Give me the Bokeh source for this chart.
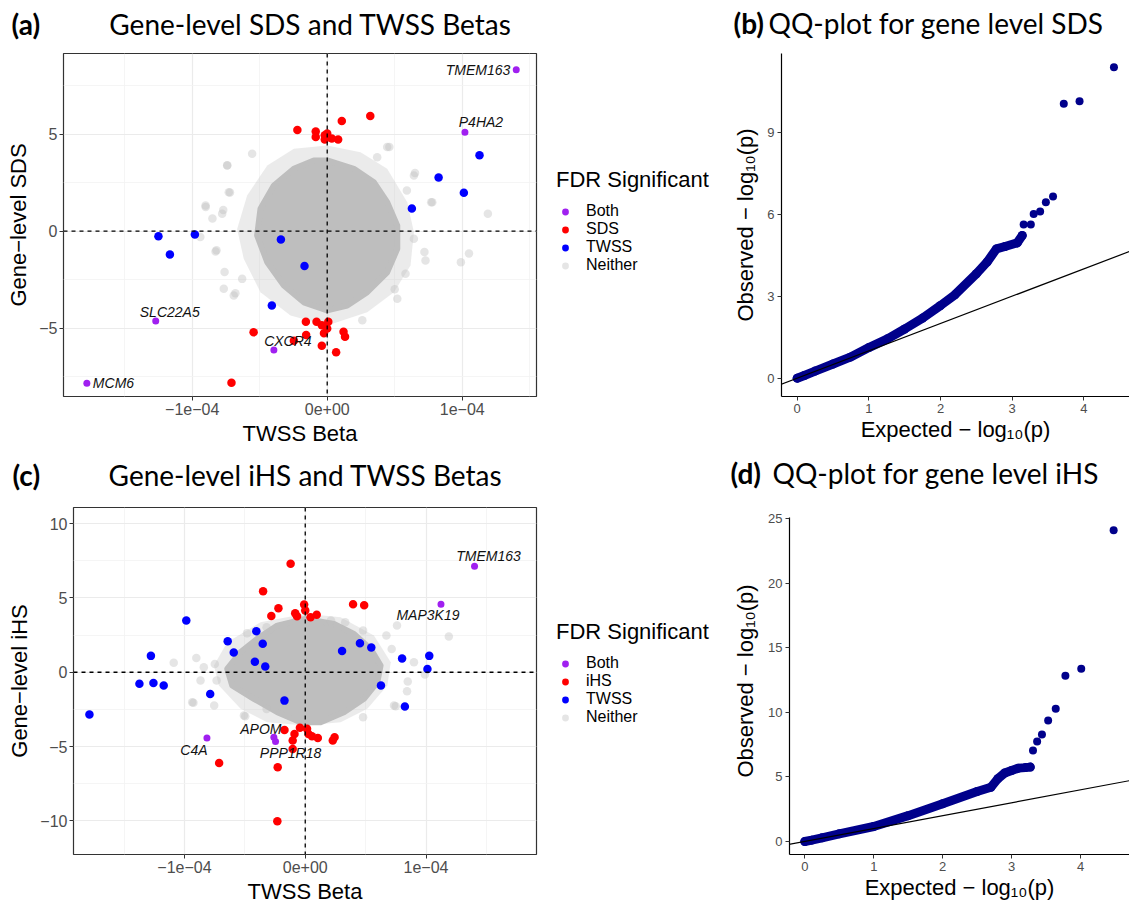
import numpy as np
from bokeh.plotting import figure
from bokeh.models import (Span, Legend, LegendItem, FixedTicker, Slope,
                          ColumnDataSource, Range1d)
from bokeh.layouts import row, column
from bokeh.embed import file_html
from bokeh.resources import INLINE
from bokeh.core.properties import value

E4 = 1e-4

# ---------------- Panel (a): SDS vs TWSS ----------------
a_both_x = np.array([1.40, 1.02, -1.27, -0.395, -1.78]) * E4
a_both_y = [8.33, 5.10, -4.64, -6.13, -7.85]
a_both_genes = ["TMEM163", "P4HA2", "SLC22A5", "CXCR4", "MCM6"]

a_twss_x = np.array([1.128, 0.825, 1.012, 0.627, -1.25, -0.98, -1.165, -0.343, -0.168, -0.41]) * E4
a_twss_y = [3.92, 2.77, 1.99, 1.17, -0.26, -0.17, -1.20, -0.43, -1.80, -3.83]

a_sds_x = np.array([0.319, 0.108, -0.221, -0.085, -0.085, -0.018, 0.0, -0.018, 0.034, 0.081,
                    -0.158, -0.079, 0.008, -0.04, -0.545, -0.156, -0.024, 0.0, 0.121, 0.132,
                    -0.247, -0.04, 0.066, -0.709]) * E4
a_sds_y = [5.94, 5.69, 5.22, 5.15, 4.86, 4.95, 5.04, 4.73, 4.78, 4.73,
           -4.67, -4.67, -4.67, -4.85, -5.22, -5.36, -5.27, -5.02, -5.19, -5.45,
           -5.65, -5.91, -6.25, -7.82]

# outline of the dense core of "Neither" genes, and of its lighter fringe
a_core_x = np.array([0.0, 0.197, 0.345, 0.444, 0.519, 0.519, 0.444, 0.296, 0.148, 0.0, -0.173,
                     -0.321, -0.444, -0.519, -0.494, -0.395, -0.247, -0.099]) * E4
a_core_y = [3.65, 3.22, 2.53, 1.50, 0.29, -0.91, -2.12, -3.15, -3.84, -4.09, -3.67,
            -2.80, -1.60, -0.22, 1.16, 2.36, 3.22, 3.65]
a_fringe_x = np.array([0.0, 0.247, 0.444, 0.593, 0.642, 0.617, 0.494, 0.296, 0.0, -0.272,
                       -0.494, -0.618, -0.667, -0.593, -0.444, -0.247]) * E4
a_fringe_y = [4.42, 4.08, 3.22, 1.50, -0.05, -1.77, -3.15, -4.18, -4.87, -4.35,
              -3.15, -1.42, 0.12, 1.84, 3.39, 4.25]

a_neither_x = np.array([-0.74, -0.72, -0.9, -0.85, -0.94, -0.82, -0.76, -0.68, -0.77,
                        0.46, 0.65, 0.59, 0.77, 0.72, 1.05, 0.99, 1.19, 0.26, 0.58, 0.5,
                        -0.556, -0.741, -0.901, -0.778, -0.827, -0.766, -0.692, -0.630, -0.729,
                        0.642, 0.778, 0.728, 0.519, 0.642, 0.444, 0.37]) * E4
a_neither_y = [3.4, 2.0, 1.25, 0.65, -0.3, -0.98, -2.1, -3.2, 1.1,
               4.35, 3.0, 2.1, 1.5, -1.07, -1.15, -1.6, 0.9, -4.6, -2.2, -3.0,
               4.0, 3.39, 1.33, 0.9, -1.05, -2.97, -3.32, -2.46, 2.01,
               2.88, 1.50, -1.51, -3.49, -0.39, 4.34, 3.82]

# ---------------- Panel (c): iHS vs TWSS ----------------
c_both_x = np.array([1.402, 1.124, -0.814, -0.26, -0.246]) * E4
c_both_y = [7.13, 4.57, -4.42, -4.37, -4.66]
c_both_genes = ["TMEM163", "MAP3K19", "C4A", "APOM", "PPP1R18"]

c_twss_x = np.array([-0.985, -0.405, -0.642, -0.352, -0.592, -1.278, -0.417, -0.331, -1.373,
                     -1.257, -1.172, -0.787, -0.172, -1.787, 0.305, 0.453, 0.547, 0.802,
                     1.027, 1.012, 0.627, 0.825]) * E4
c_twss_y = [3.48, 2.76, 2.09, 1.91, 1.32, 1.10, 0.70, 0.38, -0.78, -0.72, -0.90, -1.46,
            -1.91, -2.85, 1.43, 1.95, 1.66, 0.92, 1.10, 0.22, -0.90, -2.31]

c_ihs_x = np.array([-0.121, -0.349, -0.222, -0.281, -0.083, -0.068, -0.009, 0.0, 0.044, 0.095,
                    0.396, 0.488, -0.172, -0.089, -0.104, -0.044, 0.015, 0.027, 0.056, 0.104,
                    0.243, 0.228, -0.104, -0.713, -0.228, -0.231]) * E4
c_ihs_y = [7.29, 5.45, 4.30, 3.79, 3.97, 3.77, 4.55, 4.15, 3.70, 3.86,
           4.57, 4.51, -3.88, -4.15, -4.60, -3.74, -3.81, -4.15, -4.30, -4.42,
           -4.37, -4.60, -5.16, -6.10, -6.39, -10.02]

c_core_x = np.array([0.0, 0.238, 0.403, 0.541, 0.624, 0.597, 0.486, 0.32, 0.127, -0.038,
                     -0.231, -0.425, -0.605, -0.646, -0.535, -0.397, -0.231]) * E4
c_core_y = [3.59, 3.25, 2.58, 1.57, 0.45, -0.67, -1.79, -2.69, -3.36, -3.36,
            -2.69, -1.79, -0.89, 0.23, 1.35, 2.25, 3.14]
c_fringe_x = np.array([0.0, 0.293, 0.569, 0.708, 0.68, 0.514, 0.293, 0.0, -0.315, -0.535,
                       -0.715, -0.756, -0.646, -0.37]) * E4
c_fringe_y = [3.93, 3.70, 2.47, 0.67, -0.89, -2.46, -3.36, -3.58, -3.36, -2.46,
              -0.89, 0.45, 2.02, 3.36]

c_neither_x = np.array([-1.089, -0.902, -0.749, -0.734, -0.926, -0.754, -0.497, -0.320, 0.479,
                        0.749, 0.849, 0.843, 0.716, 0.672, 0.760, 1.189, 0.991, 0.213, 0.331,
                        -0.320, -0.482, 0.479, -0.936, -0.840, -0.867, 0.90, 0.735, -0.508]) * E4
c_neither_y = [0.63, 0.96, 0.56, -0.56, -2.06, -2.24, -2.96, -2.47, -3.03, -2.29, -0.63, -1.28,
               1.57, 2.47, 3.14, 2.40, -0.16, 3.48, 3.36, 3.03, 2.62, 2.80, -2.02, 0.34, -0.56,
               0.67, -2.24, -2.91]

# ---------------- Panel (b): QQ SDS ----------------
b_curve_exp = [0.0, 0.1, 0.25, 0.5, 0.74, 1.0, 1.26, 1.5, 1.75, 2.0, 2.2, 2.5, 2.65, 2.78, 2.9, 3.07, 3.14]
b_curve_obs = [0.0, 0.1, 0.26, 0.52, 0.77, 1.12, 1.44, 1.80, 2.2, 2.66, 3.05, 3.82, 4.25, 4.73, 4.82, 4.95, 5.22]
b_out_exp = [3.16, 3.26, 3.30, 3.39, 3.47, 3.57, 3.72, 3.94, 4.42]
b_out_obs = [5.62, 5.62, 6.01, 6.10, 6.44, 6.65, 10.04, 10.13, 11.38]

# ---------------- Panel (d): QQ iHS ----------------
d_curve_exp = [0.0, 0.1, 0.25, 0.5, 1.0, 1.5, 2.0, 2.5, 2.7, 2.8, 2.9, 3.0, 3.1, 3.2, 3.27]
d_curve_obs = [0.0, 0.1, 0.28, 0.59, 1.16, 2.0, 2.92, 3.87, 4.2, 4.86, 5.3, 5.5, 5.68, 5.72, 5.76]
d_out_exp = [3.31, 3.37, 3.44, 3.53, 3.64, 3.78, 4.01, 4.48]
d_out_obs = [7.05, 7.75, 8.29, 9.37, 10.28, 12.84, 13.38, 24.10]

# ---------------- titles / legend text ----------------
row1_tags = ["(a)", "(b)"]
row1_titles = ["Gene-level SDS and TWSS Betas", "QQ-plot for gene level SDS"]
row2_tags = ["(c)", "(d)"]
row2_titles = ["Gene-level iHS and TWSS Betas", "QQ-plot for gene level iHS"]
legend_title = "FDR Significant"

# ---------------- styling ----------------
PURPLE, RED, BLUE, GRAY, NAVY = "#A020F0", "#FF0000", "#0000FF", "#BEBEBE", "#00008B"
AX_FONT = "Liberation Sans"
TITLE_FONT = "Lato"
MINUS = "\u2212"


def blank(width, height, xr=(0, 1), yr=(0, 1), bt=0, bb=0):
    p = figure(width=width, height=height, x_range=Range1d(*xr), y_range=Range1d(*yr),
               x_axis_type=None, y_axis_type=None, min_border_left=0, min_border_right=0,
               min_border_top=bt, min_border_bottom=bb, title=None,
               output_backend="svg", toolbar_location=None)
    p.grid.visible = False
    p.outline_line_color = None
    return p


def strip_text(p, xs, ys, texts, size, bold, align):
    p.text(xs, ys, text=texts, text_font=value(TITLE_FONT), text_font_size=size,
           text_font_style="bold" if bold else "normal", text_baseline="middle",
           text_align=align, text_color="black")


def scatter_panel(width, height, bl, bt, br, bb, xr, yr, yticks, yminor, ylabel):
    p = figure(width=width, height=height, min_border_left=bl, min_border_top=bt,
               min_border_bottom=bb, min_border_right=br, x_range=Range1d(*xr),
               y_range=Range1d(*yr), title=None, output_backend="svg", toolbar_location=None)
    p.xaxis.ticker = FixedTicker(ticks=[-E4, 0.0, E4], minor_ticks=[-1.5 * E4, -0.5 * E4, 0.5 * E4, 1.5 * E4])
    p.xaxis.major_label_overrides = {-E4: MINUS + "1e" + MINUS + "04", 0.0: "0e+00", E4: "1e" + MINUS + "04"}
    p.yaxis.ticker = FixedTicker(ticks=yticks, minor_ticks=yminor)
    p.yaxis.major_label_overrides = {t: (MINUS + str(abs(t)) if t < 0 else str(t)) for t in yticks}
    p.xaxis.axis_label = "TWSS Beta"
    p.yaxis.axis_label = ylabel
    for ax in (p.xaxis, p.yaxis):
        ax.axis_line_color = None
        ax.major_tick_out = 4
        ax.major_tick_in = 0
        ax.major_tick_line_color = "#333333"
        ax.minor_tick_line_color = None
        ax.major_label_text_font = AX_FONT
        ax.major_label_text_font_size = "16px"
        ax.major_label_text_color = "#4D4D4D"
        ax.major_label_standoff = 2
        ax.axis_label_text_font = AX_FONT
        ax.axis_label_text_font_size = "22px"
        ax.axis_label_text_font_style = "normal"
        ax.axis_label_text_color = "black"
    p.xaxis.axis_label_standoff = 3
    p.yaxis.axis_label_standoff = 5
    p.grid.grid_line_color = "#EBEBEB"
    p.grid.grid_line_width = 1.2
    p.grid.minor_grid_line_color = "#F2F2F2"
    p.grid.minor_grid_line_width = 0.8
    p.outline_line_color = "#333333"
    p.outline_line_width = 1.2
    return p


def fill_scatter(p, core_x, core_y, fr_x, fr_y, nx, ny, sx, sy, tx, ty, bx, by, genes, offsets):
    p.patch(fr_x, fr_y, fill_color=GRAY, fill_alpha=0.3, line_color=None)
    p.patch(core_x, core_y, fill_color=GRAY, line_color=GRAY, line_width=6, line_join="round")
    p.scatter(nx, ny, size=8.5, fill_color=GRAY, fill_alpha=0.4, line_color=None)
    p.scatter(tx, ty, size=8.5, fill_color=BLUE, line_color=None)
    p.scatter(sx, sy, size=8.5, fill_color=RED, line_color=None)
    p.add_layout(Span(location=0, dimension="height", line_color="black", line_dash="4 4", line_width=1.3))
    p.add_layout(Span(location=0, dimension="width", line_color="black", line_dash="4 4", line_width=1.3))
    p.scatter(bx, by, size=7, fill_color=PURPLE, line_color=None)
    src = ColumnDataSource(dict(x=list(bx), y=list(by), text=genes,
                                dx=[o[0] for o in offsets], dy=[o[1] for o in offsets],
                                al=[o[2] for o in offsets]))
    p.text("x", "y", text="text", x_offset="dx", y_offset="dy", text_align="al", source=src,
           text_font=value(AX_FONT), text_font_style="italic", text_font_size="14px",
           text_baseline="middle", text_color="#111111")


def legend_fig(width, height, bt, bb, sig_name, loc):
    p = blank(width, height, bt=bt, bb=bb)
    # one off-screen sample per category: only used to draw the legend keys
    r_p = p.scatter([-5], [-5], size=7, fill_color=PURPLE, line_color=None)
    r_s = p.scatter([-5], [-5], size=8, fill_color=RED, line_color=None)
    r_b = p.scatter([-5], [-5], size=8, fill_color=BLUE, line_color=None)
    r_n = p.scatter([-5], [-5], size=8, fill_color=GRAY, fill_alpha=0.4, line_color=None)
    leg = Legend(items=[LegendItem(label="Both", renderers=[r_p]),
                        LegendItem(label=sig_name, renderers=[r_s]),
                        LegendItem(label="TWSS", renderers=[r_b]),
                        LegendItem(label="Neither", renderers=[r_n])],
                 title=legend_title, location=loc)
    leg.background_fill_alpha = 0
    leg.border_line_color = None
    leg.title_text_font = AX_FONT
    leg.title_text_font_size = "22px"
    leg.title_text_font_style = "normal"
    leg.title_text_color = "black"
    leg.title_standoff = 9
    leg.label_text_font = AX_FONT
    leg.label_text_font_size = "16px"
    leg.label_text_color = "black"
    leg.label_height = 17
    leg.glyph_height = 17
    leg.glyph_width = 18
    leg.label_standoff = 12
    leg.spacing = -1
    leg.padding = 0
    leg.margin = 0
    p.add_layout(leg)
    return p


def qq_panel(width, height, bl, bt, br, bb, xr, yr, ybounds, yticks, cx, cy, ox, oy, ystand):
    p = figure(width=width, height=height, min_border_left=bl, min_border_top=bt,
               min_border_bottom=bb, min_border_right=br, x_range=Range1d(*xr),
               y_range=Range1d(*yr), title=None, output_backend="svg", toolbar_location=None)
    p.grid.visible = False
    p.outline_line_color = None
    p.xaxis.ticker = FixedTicker(ticks=[0, 1, 2, 3, 4])
    p.yaxis.ticker = FixedTicker(ticks=yticks)
    p.yaxis.bounds = ybounds
    p.xaxis.axis_label = "Expected \u2212 log\u2081\u2080(p)"
    p.yaxis.axis_label = "Observed \u2212 log\u2081\u2080(p)"
    for ax in (p.xaxis, p.yaxis):
        ax.axis_line_color = "black"
        ax.axis_line_width = 1.2
        ax.major_tick_out = 4
        ax.major_tick_in = 0
        ax.major_tick_line_color = "#333333"
        ax.minor_tick_line_color = None
        ax.major_label_text_font = AX_FONT
        ax.major_label_text_font_size = "13px"
        ax.major_label_text_color = "#4D4D4D"
        ax.major_label_standoff = 3
        ax.axis_label_text_font = AX_FONT
        ax.axis_label_text_font_size = "22px"
        ax.axis_label_text_font_style = "normal"
        ax.axis_label_text_color = "black"
    p.xaxis.axis_label_standoff = 1
    p.yaxis.axis_label_standoff = ystand
    p.add_layout(Slope(gradient=1, y_intercept=0, line_color="black", line_width=1.2))
    p.line(cx, cy, line_color=NAVY, line_width=9, line_cap="round", line_join="round")
    p.scatter(cx, cy, size=9, fill_color=NAVY, line_color=None)
    p.scatter(ox, oy, size=8, fill_color=NAVY, line_color=None)
    return p


# ----- Row 1 (titles strip 0..44, plots 44..450; frames 53..396) -----
strip1 = blank(1129, 44, (0, 1129), (44, 0))
strip_text(strip1, [11, 733], [23, 22], row1_tags, "28px", True, "left")
strip_text(strip1, [310], [23], row1_titles[:1], "28px", False, "center")
strip_text(strip1, [768], [22], row1_titles[1:], "28px", False, "left")

pa = scatter_panel(546, 406, 63, 9, 10, 54, (-1.953 * E4, 1.550 * E4), (-8.53, 9.17),
                   [-5, 0, 5], [-7.5, -2.5, 2.5, 7.5], "Gene" + MINUS + "level SDS")
fill_scatter(pa, a_core_x, a_core_y, a_fringe_x, a_fringe_y, a_neither_x, a_neither_y,
             a_sds_x, a_sds_y, a_twss_x, a_twss_y, a_both_x, a_both_y, a_both_genes,
             [(-6, 0, "right"), (16, -10, "center"), (14, -9, "center"), (14, -9, "center"), (6, 0, "left")])
legA = legend_fig(169, 406, 9, 54, "SDS", (10, 122))
pb = qq_panel(414, 406, 66, 9, 0, 54, (-0.219, 4.637), (-0.67, 11.88), (-0.67, 11.88), [0, 3, 6, 9],
              b_curve_exp, b_curve_obs, b_out_exp, b_out_obs, 6)

# ----- Row 2 (titles strip 450..494, plots 494..906; frames 507..854) -----
strip2 = blank(1129, 44, (0, 1129), (44, 0))
strip_text(strip2, [12, 730], [24, 22], row2_tags, "28px", True, "left")
strip_text(strip2, [305], [24], row2_titles[:1], "28px", False, "center")
strip_text(strip2, [772], [22], row2_titles[1:], "28px", False, "left")

pc = scatter_panel(546, 412, 73, 13, 10, 52, (-1.919 * E4, 1.915 * E4), (-12.26, 11.08),
                   [-10, -5, 0, 5, 10], [-7.5, -2.5, 2.5, 7.5], "Gene" + MINUS + "level iHS")
fill_scatter(pc, c_core_x, c_core_y, c_fringe_x, c_fringe_y, c_neither_x, c_neither_y,
             c_ihs_x, c_ihs_y, c_twss_x, c_twss_y, c_both_x, c_both_y, c_both_genes,
             [(14, -10, "center"), (-13, 11, "center"), (-13, 12, "center"), (-13, -8, "center"), (15, 11, "center")])
legC = legend_fig(169, 412, 13, 52, "iHS", (10, 128))
pd_ = qq_panel(414, 412, 74, 13, 0, 52, (-0.222, 4.71), (-1.01, 25.87), (-1.01, 25.1),
               [0, 5, 10, 15, 20, 25], d_curve_exp, d_curve_obs, d_out_exp, d_out_obs, 7)

layout = column(strip1, row(pa, legA, pb), strip2, row(pc, legC, pd_))
open("out.html", "w").write(file_html(layout, INLINE))
